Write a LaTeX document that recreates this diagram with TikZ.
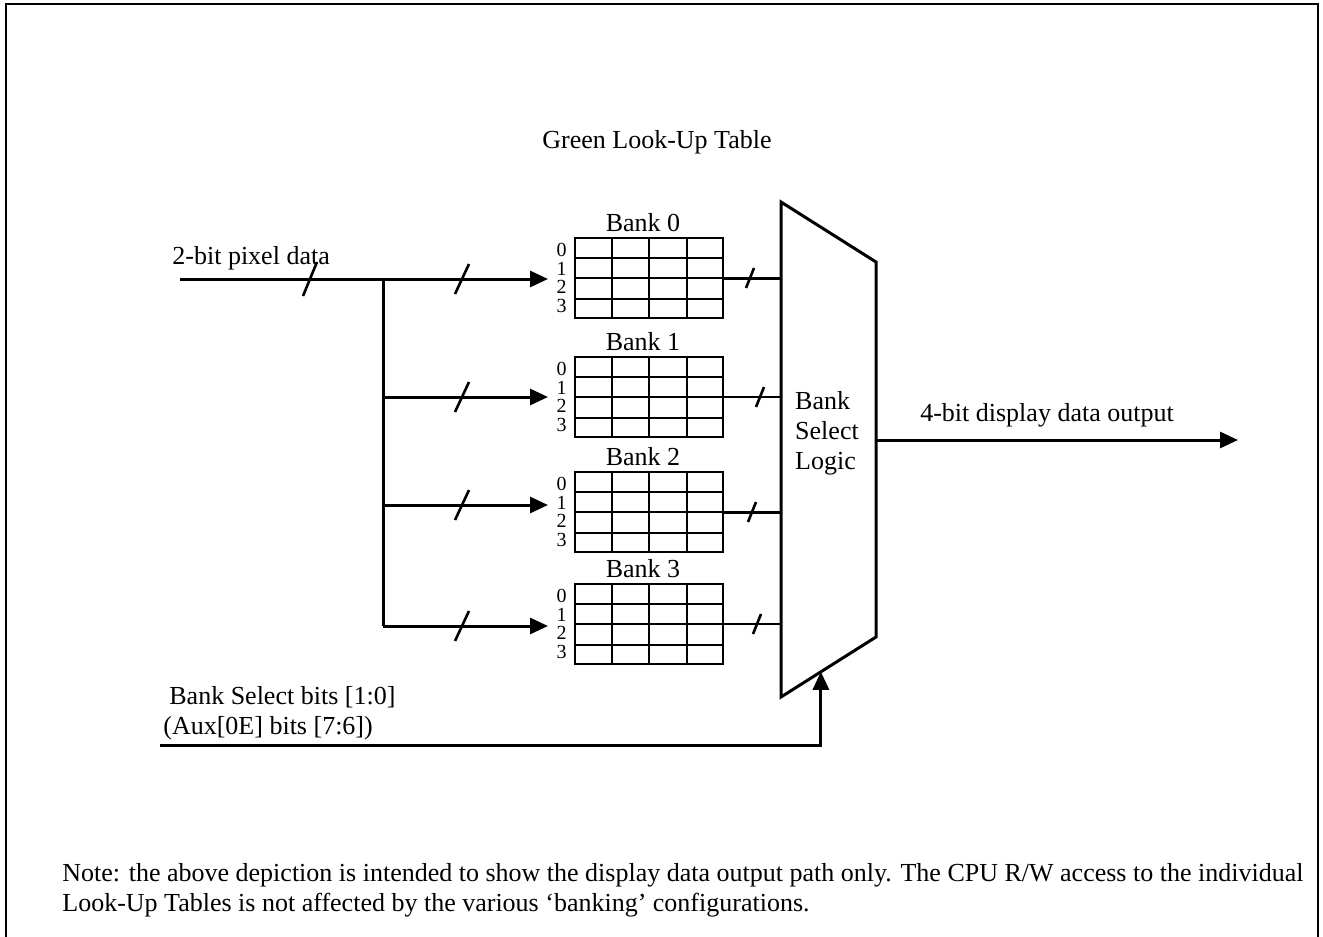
\documentclass[tikz,border=0pt]{standalone}
\usepackage{fontspec}
\setmainfont{Liberation Serif}
\usetikzlibrary{positioning,calc}
\usetikzlibrary{arrows.meta}
\tikzset{
  bus/.style={draw=black,line width=1.5pt},
  wire/.style={draw=black,line width=0.8pt},
  tick/.style={draw=black,line width=1.3pt},
  tbl/.style={draw=black,line width=1pt,minimum width=74pt,minimum height=40pt,inner sep=0pt},
  cell/.style={draw=black,line width=1pt},
  tip/.style={-{Triangle[length=9pt,width=8pt]}},
}
\tikzset{lab/.style={font=\fontsize{13}{15}\selectfont,inner sep=0pt}, row/.style={font=\fontsize{10}{10}\selectfont,inner sep=0pt}}

\begin{document}
\begin{tikzpicture}[x=0.5pt,y=-0.5pt]
\useasboundingbox (0,0) rectangle (1323,937);
\draw[line width=1pt] (6,945) -- (6,4) -- (1318,4) -- (1318,945);
\node[lab] (title) at (657,142) {Green Look-Up Table};
% look-up tables
\node[tbl] (b0) at (649,278) {};
\node[tbl] (b1) at (649,397) {};
\node[tbl] (b2) at (649,512) {};
\node[tbl] (b3) at (649,624) {};
\foreach \b in {0,...,3}{
  \foreach \k in {1,2,3}{
    \draw[cell] ($(b\b.north west)!\k/4!(b\b.north east)$) -- ($(b\b.south west)!\k/4!(b\b.south east)$);
    \draw[cell] ($(b\b.north west)!\k/4!(b\b.south west)$) -- ($(b\b.north east)!\k/4!(b\b.south east)$);
  }
  \foreach \r in {0,...,3}
    \node[row,anchor=east] at ($(b\b.west)+(-7,{(\r-1.5)*18.5})$) {\r};
  \node[lab,above=2.5pt of b\b,xshift=-3pt] {Bank \b};
}
% bank select logic
\coordinate (mtl) at (781,202);
\coordinate (mtr) at (876,262);
\coordinate (mbr) at (876,637);
\coordinate (mbl) at (781,697);
\draw[bus,line join=miter] (mtl) -- (mtr) -- (mbr) -- (mbl) -- cycle;
\node[lab,align=left] (bsl) at (827,433) {Bank\\Select\\Logic};
% pixel data in
\coordinate (src) at (180,279);
\coordinate (jn) at (383,279);
\coordinate (in0) at (548,279);
\coordinate (in1) at (548,397);
\coordinate (in2) at (548,505);
\coordinate (in3) at (548,626);
\node[lab,anchor=west] (pix) at (172,258) {2-bit pixel data};
\draw[bus,tip] (src) -- (in0);
\draw[bus] (jn) -- (jn |- in3);
\draw[bus,tip] (jn |- in1) -- (in1);
\draw[bus,tip] (jn |- in2) -- (in2);
\draw[bus,tip] (jn |- in3) -- (in3);
\draw[tick] (310,279) ++(-7,17) -- ++(14,-34);
\foreach \y in {279,397,505,626}
  \draw[tick] (462,\y) ++(-7,15) -- ++(14,-30);
% bank outputs
\draw[bus] (b0.east) -- (b0.east -| mtl);
\draw[wire] (b1.east) -- (b1.east -| mtl);
\draw[bus] (b2.east) -- (b2.east -| mtl);
\draw[wire] (b3.east) -- (b3.east -| mtl);
\draw[tick] (750,278) ++(-4,10) -- ++(8,-20);
\draw[tick] (760,397) ++(-4,10) -- ++(8,-20);
\draw[tick] (752,512) ++(-4,10) -- ++(8,-20);
\draw[tick] (757,624) ++(-4,10) -- ++(8,-20);
% display out
\coordinate (out) at (1238,440);
\draw[bus,tip] (mtr |- out) -- (out);
\node[lab] (outlab) at (1047,415) {4-bit display data output};
% bank select bits
\coordinate (sel) at (160,745);
\coordinate (selin) at ($(mbl)!0.42!(mbr)$);
\draw[bus,tip] (sel) -| (selin);
\node[lab,align=left,anchor=west] (sellab) at (163,713) {\hspace*{3pt}Bank Select bits [1:0]\\(Aux[0E] bits [7:6])};
% note
\node[lab,align=left,anchor=north west] (note) at (62,863) {Note: the above depiction is intended to show the display data output path only. The CPU R/W access to the individual\\Look-Up Tables is not affected by the various ‘banking’ configurations.};
\end{tikzpicture}
\end{document}
